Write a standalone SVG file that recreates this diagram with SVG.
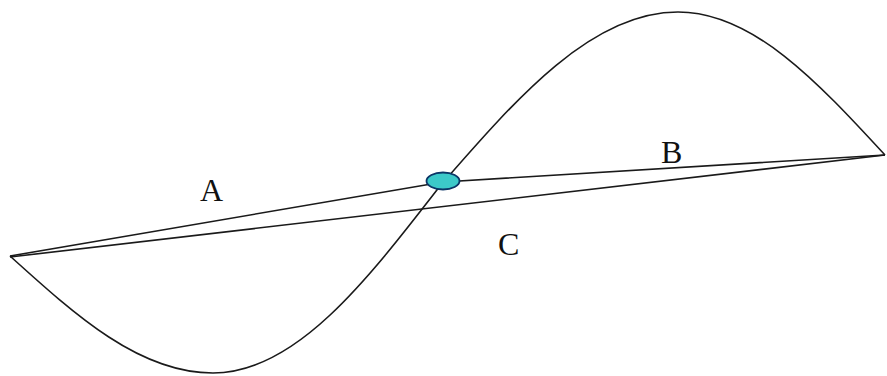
<svg xmlns="http://www.w3.org/2000/svg" width="887" height="376" viewBox="0 0 887 376">
<style>
.ln{fill:none;stroke:#1a1a1a;stroke-width:1.6;stroke-linejoin:round}
.lbl{font-family:"Liberation Serif","Times New Roman",serif;font-size:32px;fill:#111}
</style>
<rect width="887" height="376" fill="#ffffff"/>
<g id="connectors">
<path id="curve" class="ln" d="M10,256 C76.3,316 139.5,373 213,373 C295.2,373 365.9,281.9 440,186 C517.7,96.8 591.8,12 678,12 C752.9,12 817.4,81.7 885,155"/>
<polyline id="lineAB" class="ln" points="10,256 443,182 885,155"/>
<line id="lineC" class="ln" x1="10" y1="257" x2="885" y2="155"/>
</g>
<g id="point">
<ellipse cx="443" cy="181" rx="16.5" ry="8.5" fill="#3cc9c9" stroke="#0b3566" stroke-width="1.8"/>
</g>
<g id="labelA"><text class="lbl" x="200" y="201">A</text></g>
<g id="labelB"><text class="lbl" x="661" y="163">B</text></g>
<g id="labelC"><text class="lbl" x="498" y="255">C</text></g>
</svg>
